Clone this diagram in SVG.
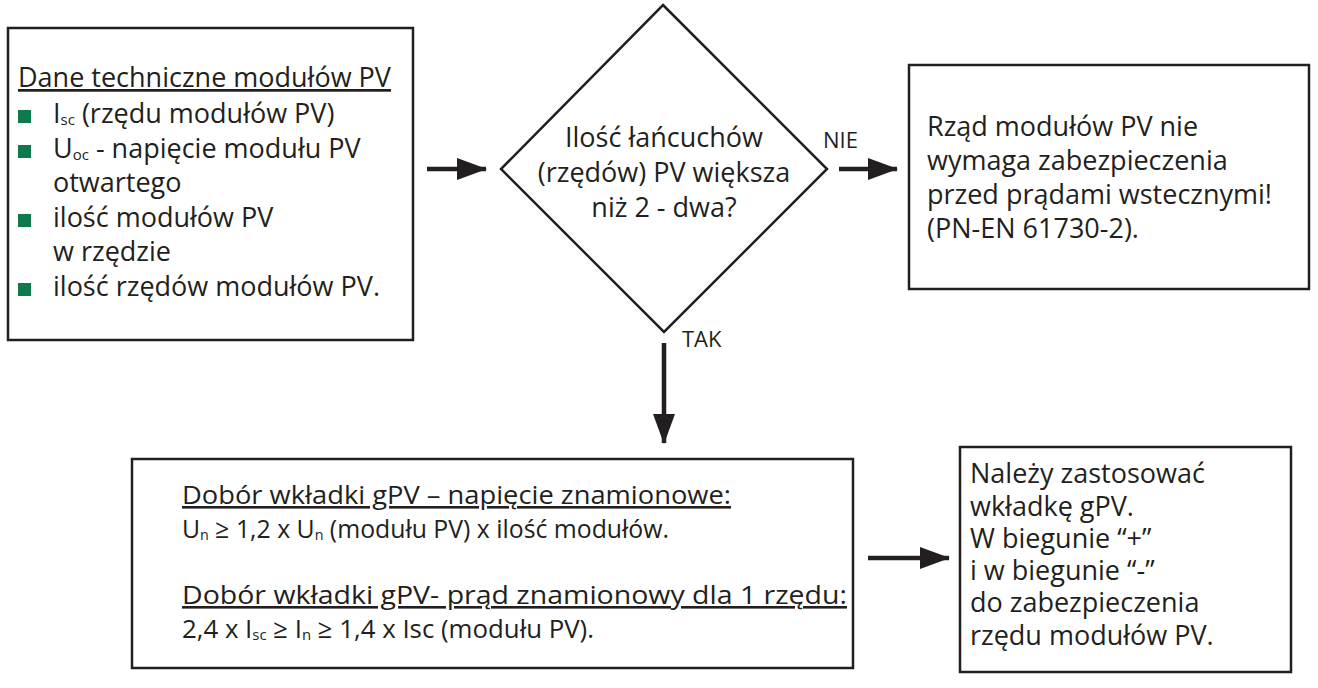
<svg xmlns="http://www.w3.org/2000/svg" width="1318" height="688" viewBox="0 0 1318 688">
<style>
.box{fill:#fff;stroke:#231f20;stroke-width:2.5}
.t{font-family:"Open Sans","Liberation Sans",sans-serif;font-size:27px;fill:#231f20}
.tb{font-family:"Open Sans","Liberation Sans",sans-serif;font-size:26px;fill:#231f20}
.lab{font-family:"Open Sans","Liberation Sans",sans-serif;font-size:22px;fill:#231f20}
.u{text-decoration:underline}
.bul{fill:#0e7a4c}
.conn{stroke:#231f20;stroke-width:4.5;fill:none}
</style>
<defs>
<marker id="ah" markerUnits="userSpaceOnUse" markerWidth="30" markerHeight="22" refX="29" refY="11" orient="auto">
<path d="M0,0 L30,11 L0,22 Z" fill="#231f20"/>
</marker>
</defs>
<rect width="1318" height="688" fill="#fff"/>
<g id="connectors">
<path class="conn" d="M427,169 H486" marker-end="url(#ah)"/>
<path class="conn" d="M839,169 H897" marker-end="url(#ah)"/>
<path class="conn" d="M664,343 V443" marker-end="url(#ah)"/>
<path class="conn" d="M868,558 H949" marker-end="url(#ah)"/>
<text class="lab" x="823" y="148">NIE</text>
<text class="lab" x="682" y="347">TAK</text>
</g>
<g id="node-dane">
<rect class="box" x="8" y="28" width="405" height="312"/>
<text class="t u" x="18" y="87">Dane techniczne modułów PV</text>
<rect class="bul" x="18" y="110" width="13" height="13"/>
<text class="t" x="53" y="123">I<tspan font-size="15" dy="2">sc</tspan><tspan dy="-2"> (rzędu modułów PV)</tspan></text>
<rect class="bul" x="18" y="145" width="13" height="13"/>
<text class="t" x="53" y="158">U<tspan font-size="15" dy="2">oc</tspan><tspan dy="-2"> - napięcie modułu PV</tspan></text>
<text class="t" x="53" y="192">otwartego</text>
<rect class="bul" x="18" y="214" width="13" height="13"/>
<text class="t" x="53" y="227">ilość modułów PV</text>
<text class="t" x="53" y="261">w rzędzie</text>
<rect class="bul" x="18" y="283" width="13" height="13"/>
<text class="t" x="53" y="296">ilość rzędów modułów PV.</text>
</g>
<g id="node-decision">
<polygon class="box" points="663,5 827,169 664,332 501,169"/>
<text class="t" x="664" y="147" text-anchor="middle">Ilość łańcuchów</text>
<text class="t" x="664" y="182" text-anchor="middle">(rzędów) PV większa</text>
<text class="t" x="664" y="217" text-anchor="middle">niż 2 - dwa?</text>
</g>
<g id="node-nie">
<rect class="box" x="909" y="65" width="400" height="224"/>
<text class="t" x="927" y="136">Rząd modułów PV nie</text>
<text class="t" x="927" y="170">wymaga zabezpieczenia</text>
<text class="t" x="927" y="204">przed prądami wstecznymi!</text>
<text class="t" x="927" y="238">(PN-EN 61730-2).</text>
</g>
<g id="node-dobor">
<rect class="box" x="132" y="459" width="721" height="209"/>
<text class="tb u" x="182" y="504" textLength="549" lengthAdjust="spacingAndGlyphs">Dobór wkładki gPV – napięcie znamionowe:</text>
<text class="tb" x="182" y="538" textLength="487" lengthAdjust="spacingAndGlyphs">U<tspan font-size="15" dy="2">n</tspan><tspan dy="-2"> ≥ 1,2 x U</tspan><tspan font-size="15" dy="2">n</tspan><tspan dy="-2"> (modułu PV) x ilość modułów.</tspan></text>
<text class="tb u" x="182" y="604" textLength="665" lengthAdjust="spacingAndGlyphs">Dobór wkładki gPV- prąd znamionowy dla 1 rzędu:</text>
<text class="tb" x="182" y="638" textLength="412" lengthAdjust="spacingAndGlyphs">2,4 x I<tspan font-size="15" dy="2">sc</tspan><tspan dy="-2"> ≥ I</tspan><tspan font-size="15" dy="2">n</tspan><tspan dy="-2"> ≥ 1,4 x Isc (modułu PV).</tspan></text>
</g>
<g id="node-wynik">
<rect class="box" x="960" y="447" width="331" height="225"/>
<text class="t" x="970" y="483">Należy zastosować</text>
<text class="t" x="970" y="516">wkładkę gPV.</text>
<text class="t" x="970" y="548">W biegunie “+”</text>
<text class="t" x="970" y="580">i w biegunie “-”</text>
<text class="t" x="970" y="612">do zabezpieczenia</text>
<text class="t" x="970" y="645">rzędu modułów PV.</text>
</g>
</svg>
